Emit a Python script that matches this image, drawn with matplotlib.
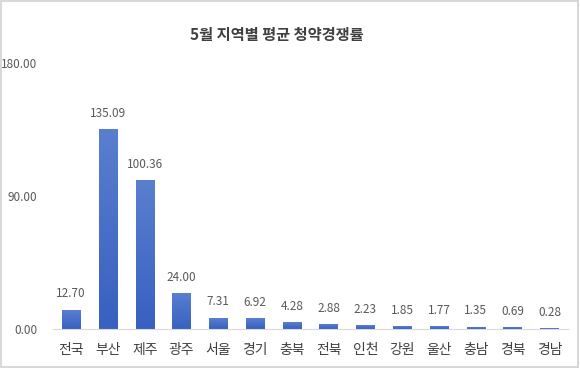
import numpy as np
import matplotlib.pyplot as plt
from matplotlib.patches import Rectangle
from matplotlib.colors import LinearSegmentedColormap

plt.rcParams['font.family'] = ['Noto Sans CJK KR', 'DejaVu Sans']

regions = ['전국', '부산', '제주', '광주', '서울', '경기', '충북', '전북',
           '인천', '강원', '울산', '충남', '경북', '경남']
rates = [12.70, 135.09, 100.36, 24.00, 7.31, 6.92, 4.28, 2.88,
         2.23, 1.85, 1.77, 1.35, 0.69, 0.28]
yticks = [0, 90, 180]

fig = plt.figure(figsize=(5.8, 3.68), dpi=100)
ax = fig.add_axes([0.091, 0.106, 0.888, 0.723])

x = np.arange(len(regions))
bars = ax.bar(x, rates, width=0.5, color='none', zorder=2)

# vertical gradient on each bar, lighter at top
grad = np.linspace(0, 1, 256).reshape(-1, 1)
cmap = LinearSegmentedColormap.from_list('b', ['#3760c0', '#5a7fd0'])
for b in bars:
    x0, w, h = b.get_x(), b.get_width(), b.get_height()
    ax.imshow(grad, extent=(x0, x0 + w, 0, h), origin='lower', cmap=cmap,
              aspect='auto', zorder=2)

for xi, v in zip(x, rates):
    ax.annotate(f'{v:.2f}', (xi, v), xytext=(0, 7), textcoords='offset points',
                ha='center', va='bottom', fontsize=8.5, color='#595959')

ax.set_xlim(-0.5, len(regions) - 0.5)
ax.set_ylim(0, 180)
ax.set_yticks(yticks)
ax.set_yticklabels([f'{t:.2f}' for t in yticks], fontsize=8.5, color='#595959')
ax.set_xticks(x)
ax.set_xticklabels(regions, fontsize=10, color='#404040')
ax.tick_params(axis='both', length=0)
ax.tick_params(axis='y', pad=11)
ax.tick_params(axis='x', pad=10)

for s in ['top', 'right', 'left']:
    ax.spines[s].set_visible(False)
ax.spines['bottom'].set_color('#d9d9d9')

fig.text(0.478, 0.905, '5월 지역별 평균 청약경쟁률', ha='center', va='center',
         fontsize=11, fontweight='bold', color='#404040')

fig.patches.append(Rectangle((0.002, 0.003), 0.995, 0.994, transform=fig.transFigure,
                             fill=False, edgecolor='#d9d9d9', linewidth=1.5))

fig.savefig('out.png', dpi=100)
